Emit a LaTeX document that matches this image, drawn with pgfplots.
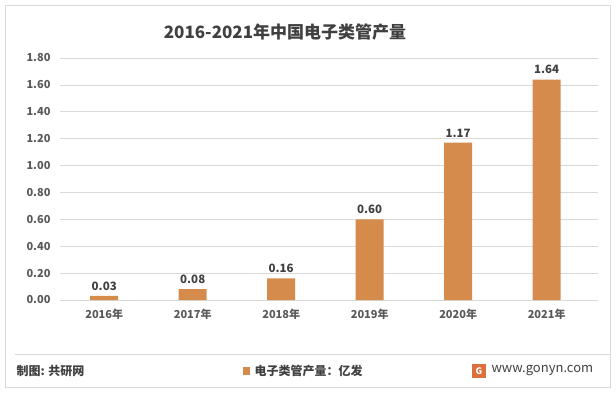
\documentclass[border=0pt]{standalone}
\usepackage{pgfplots}
\pgfplotsset{compat=1.18}
\usepackage{fontspec}
\setmainfont{Noto Sans CJK SC}
\definecolor{barc}{RGB}{213,139,76}
\definecolor{txt}{RGB}{89,89,89}
\definecolor{ttl}{RGB}{64,64,64}
\definecolor{grd}{RGB}{217,217,217}
\begin{document}
\begin{tikzpicture}[x=1pt,y=1pt]
\useasboundingbox (0,0) rectangle (616,392);
\draw[grd, line width=0.8pt] (5,5) rectangle (610,387);
\node[font=\fontsize{17}{20}\selectfont\bfseries, text=ttl] at (285,360) {2016-2021年中国电子类管产量};
\begin{axis}[
  at={(60pt,92pt)}, anchor=south west,
  width=538pt, height=242pt, scale only axis,
  xmin=-0.5, xmax=5.58, ymin=0, ymax=1.8,
  ytick={0,0.2,...,1.8},
  yticklabel style={/pgf/number format/fixed, /pgf/number format/fixed zerofill, /pgf/number format/precision=2, xshift=-6pt},
  /pgf/number format/assume math mode=true,
  xtick={0,...,5},
  xticklabels={2016年,2017年,2018年,2019年,2020年,2021年},
  ymajorgrids, grid style={grd, line width=0.6pt},
  axis line style={draw=none},
  tick style={draw=none},
  ticklabel style={font=\fontsize{11}{13}\selectfont\bfseries, text=txt},
  xticklabel style={yshift=-6pt},
  nodes near coords,
  nodes near coords style={font=\fontsize{11.5}{13}\selectfont\bfseries, text=ttl, yshift=2pt, /pgf/number format/fixed, /pgf/number format/fixed zerofill, /pgf/number format/precision=2, /pgf/number format/assume math mode=true},
  clip=false,
]
\addplot[ybar, bar width=28pt, fill=barc, draw=none] coordinates {
(0,0.03) (1,0.08) (2,0.16) (3,0.60) (4,1.17) (5,1.64)};
\end{axis}
\draw[grd, line width=0.8pt] (15,38) -- (610,38);
\node[anchor=west, font=\fontsize{12}{14}\selectfont\bfseries, text=ttl] at (13,21) {制图: 共研网};
\fill[barc] (243,17) rectangle (250,25);
\node[anchor=west, font=\fontsize{12}{14}\selectfont\bfseries, text=ttl] at (251,21) {电子类管产量：亿发};
\fill[barc!80!red] (472,14) rectangle (486,28);
\node[font=\fontsize{9}{10}\selectfont\bfseries, text=white] at (479,21) {G};
\node[anchor=west, font=\fontsize{13}{15}\selectfont, text=ttl] at (488,21) {www.gonyn.com};
\end{tikzpicture}
\end{document}
